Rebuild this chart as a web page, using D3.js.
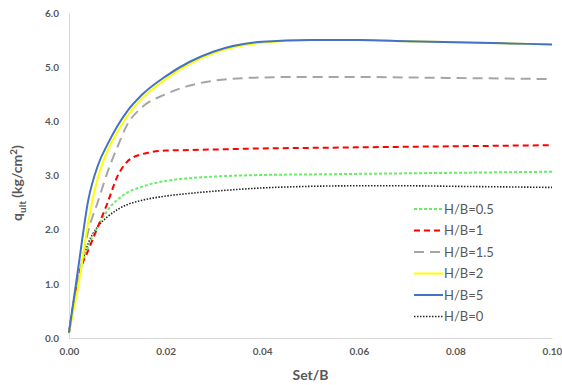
<!DOCTYPE html>
<html>
<head>
<meta charset="utf-8">
<script src="https://cdn.jsdelivr.net/npm/d3@7"></script>
<style>
  html, body { margin: 0; padding: 0; background: #fff; }
  svg { display: block; }
  text { font-family: Lato, "Open Sans", "Liberation Sans", sans-serif; fill: #595959; }
</style>
</head>
<body>
<svg id="chart" width="562" height="385"></svg>
<script>
// Settlement ratio (Set/B) sampled for every curve
const settlement = [0, 0.002, 0.004, 0.006, 0.008, 0.01, 0.012, 0.015, 0.02, 0.025, 0.03, 0.04, 0.05, 0.06, 0.07, 0.08, 0.09, 0.1];

// Ultimate bearing pressure q_ult (kg/cm²) for each H/B ratio
const qHB05 = [0.1, 1.10, 1.69, 2.06, 2.36, 2.55, 2.68, 2.79, 2.90, 2.95, 2.98, 3.01, 3.02, 3.03, 3.04, 3.05, 3.06, 3.07];
const qHB1  = [0.1, 1.15, 1.62, 2.06, 2.50, 2.98, 3.25, 3.39, 3.46, 3.47, 3.48, 3.50, 3.51, 3.52, 3.53, 3.54, 3.55, 3.56];
const qHB15 = [0.1, 1.10, 1.98, 2.52, 3.07, 3.52, 3.93, 4.25, 4.50, 4.66, 4.75, 4.81, 4.82, 4.82, 4.81, 4.80, 4.79, 4.78];
const qHB2  = [0.1, 1.00, 2.15, 2.97, 3.46, 3.80, 4.09, 4.41, 4.78, 5.06, 5.26, 5.45, 5.50, 5.50, 5.48, 5.46, 5.44, 5.42];
const qHB5  = [0.1, 1.35, 2.55, 3.19, 3.58, 3.91, 4.18, 4.48, 4.83, 5.10, 5.29, 5.47, 5.50, 5.50, 5.48, 5.46, 5.44, 5.42];
const qHB0  = [0.1, 1.12, 1.75, 2.06, 2.24, 2.37, 2.46, 2.54, 2.62, 2.67, 2.71, 2.77, 2.80, 2.81, 2.81, 2.80, 2.79, 2.78];

const seriesNames = ["H/B=0.5", "H/B=1", "H/B=1.5", "H/B=2", "H/B=5", "H/B=0"];
const seriesValues = [qHB05, qHB1, qHB15, qHB2, qHB5, qHB0];

const xTicks = [0, 0.02, 0.04, 0.06, 0.08, 0.10];
const yTicks = [0, 1, 2, 3, 4, 5, 6];

// Line styling per series (same order as seriesNames)
const styles = [
  { color: "#66ee66", width: 2,   dash: "3,2" },
  { color: "#ff0000", width: 2,   dash: "6,4" },
  { color: "#a5a5a5", width: 2,   dash: "10,6" },
  { color: "#ffff00", width: 2,   dash: null },
  { color: "#4472c4", width: 2,   dash: null },
  { color: "#262626", width: 1.6, dash: "1.5,1.5" }
];

const svg = d3.select("#chart");
const plot = { left: 69, right: 552, top: 13, bottom: 338 };

const x = d3.scaleLinear().domain([0, 0.1]).range([plot.left, plot.right]);
const y = d3.scaleLinear().domain([0, 6]).range([plot.bottom, plot.top]);

// Axes: thin light-gray domain lines, no tick marks
const xAxis = svg.append("g")
  .attr("transform", `translate(0,${plot.bottom})`)
  .call(d3.axisBottom(x).tickValues(xTicks).tickFormat(d3.format(".2f")).tickSize(0).tickPadding(10));
const yAxis = svg.append("g")
  .attr("transform", `translate(${plot.left},0)`)
  .call(d3.axisLeft(y).tickValues(yTicks).tickFormat(d3.format(".1f")).tickSize(0).tickPadding(10));

[xAxis, yAxis].forEach(g => {
  g.select(".domain").attr("stroke", "#d9d9d9").attr("stroke-width", 1);
  g.selectAll("text")
    .style("font-size", "10px")
    .style("font-weight", "bold")
    .attr("fill", "#595959");
});

// Curves
const line = d3.line()
  .x(d => x(d[0]))
  .y(d => y(d[1]))
  .curve(d3.curveMonotoneX);

const drawOrder = [5, 0, 1, 2, 3, 4];
drawOrder.forEach(i => {
  const pts = settlement.map((s, k) => [s, seriesValues[i][k]]);
  svg.append("path")
    .datum(pts)
    .attr("fill", "none")
    .attr("stroke", styles[i].color)
    .attr("stroke-width", styles[i].width)
    .attr("stroke-dasharray", styles[i].dash)
    .attr("d", line);
});

// Axis titles
svg.append("text")
  .attr("x", (plot.left + plot.right) / 2)
  .attr("y", 380)
  .attr("text-anchor", "middle")
  .style("font-size", "14px")
  .style("font-weight", "bold")
  .text("Set/B");

const yTitle = svg.append("text")
  .attr("transform", "translate(22,183) rotate(-90)")
  .attr("text-anchor", "middle")
  .style("font-size", "14px")
  .style("font-weight", "bold");
yTitle.append("tspan").text("q");
yTitle.append("tspan").attr("dy", 4).style("font-size", "10px").text("ult");
yTitle.append("tspan").attr("dy", -4).text(" (kg/cm");
yTitle.append("tspan").attr("dy", -5).style("font-size", "10px").text("2");
yTitle.append("tspan").attr("dy", 5).text(")");

// Legend
const legend = svg.append("g").attr("transform", "translate(414,209)");
seriesNames.forEach((name, i) => {
  const row = legend.append("g").attr("transform", `translate(0,${i * 21.5})`);
  row.append("line")
    .attr("x1", 0).attr("x2", 29).attr("y1", 0).attr("y2", 0)
    .attr("stroke", styles[i].color)
    .attr("stroke-width", styles[i].width)
    .attr("stroke-dasharray", styles[i].dash);
  row.append("text")
    .attr("x", 30)
    .attr("y", 4.5)
    .style("font-size", "13px")
    .text(name);
});
</script>
</body>
</html>
